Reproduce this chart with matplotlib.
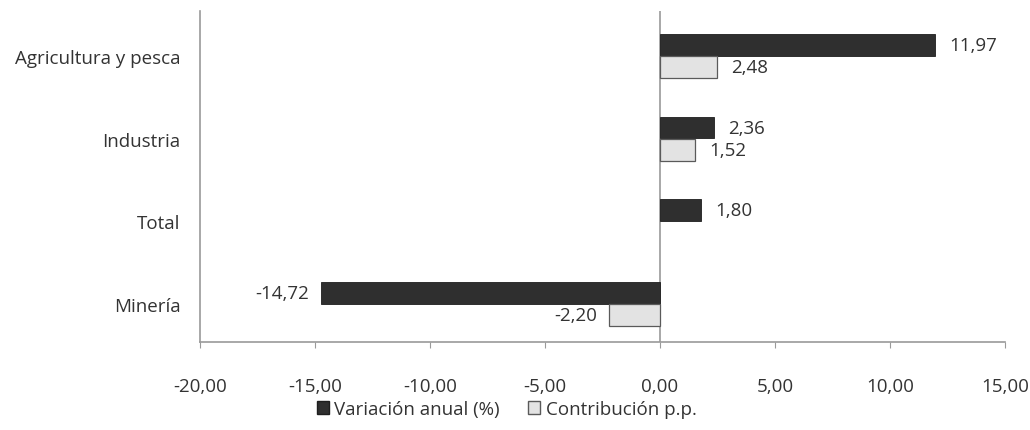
import numpy as np
import matplotlib
matplotlib.use('Agg')
import matplotlib.pyplot as plt
from matplotlib.patches import Patch

plt.rcParams['font.family'] = ['Open Sans', 'DejaVu Sans']

categories = ['Agricultura y pesca', 'Industria', 'Total', 'Minería']
# Variación anual (%)
variacion = [11.97, 2.36, 1.80, -14.72]
# Contribución p.p. (no bar for Total)
contribucion = [2.48, 1.52, None, -2.20]
xticks = [-20, -15, -10, -5, 0, 5, 10, 15]

dark = '#2f2f2f'
light = '#e3e3e3'
axis_grey = '#9a9a9a'
text_col = '#333333'
fs = 13.5

fig = plt.figure(figsize=(10.30, 4.31), dpi=100)
ax = fig.add_axes([200 / 1030, 1 - 343 / 431, 805 / 1030, 331 / 431])

y = np.arange(len(categories))
h = 0.265
off = 0.135

ax.barh(y - off, variacion, height=h, color=dark, edgecolor='#1e1e1e', linewidth=0.6)
cy = [yy + off for yy, v in zip(y, contribucion) if v is not None]
cv = [v for v in contribucion if v is not None]
ax.barh(cy, cv, height=h, color=light, edgecolor='#5a5a5a', linewidth=0.9)

def fmt(v):
    return f'{v:.2f}'.replace('.', ',')

for yy, v in list(zip(y - off, variacion)) + list(zip(cy, cv)):
    ax.annotate(fmt(v), (v, yy), xytext=(10 if v > 0 else -9, 0), textcoords='offset points',
                ha='left' if v > 0 else 'right', va='center', fontsize=fs, color=text_col)

ax.set_xlim(-20, 15)
ax.set_ylim(len(categories) - 0.5 - 0.043, -0.5 - 0.043)
ax.set_xticks(xticks)
ax.set_xticklabels([fmt(t) for t in xticks])
ax.set_yticks(y)
ax.set_yticklabels(categories)
ax.axvline(0, color=axis_grey, linewidth=1.2, zorder=0)

for side in ['top', 'right']:
    ax.spines[side].set_visible(False)
for side in ['left', 'bottom']:
    ax.spines[side].set_color(axis_grey)
    ax.spines[side].set_linewidth(1.2)

ax.tick_params(axis='x', length=4, color=axis_grey, pad=21, labelsize=fs, labelcolor=text_col)
ax.tick_params(axis='y', length=0, pad=14, labelsize=fs, labelcolor=text_col)

handles = [Patch(facecolor=dark, edgecolor='#1e1e1e', label='Variación anual (%)'),
           Patch(facecolor=light, edgecolor='#5a5a5a', label='Contribución p.p.')]
fig.legend(handles=handles, loc='center', bbox_to_anchor=(0.492, 1 - 410 / 431), ncol=2,
           frameon=False, fontsize=fs, handlelength=0.65, handleheight=0.65,
           handletextpad=0.3, columnspacing=1.5, labelcolor=text_col)

fig.savefig('out.png', dpi=100, facecolor='white')
